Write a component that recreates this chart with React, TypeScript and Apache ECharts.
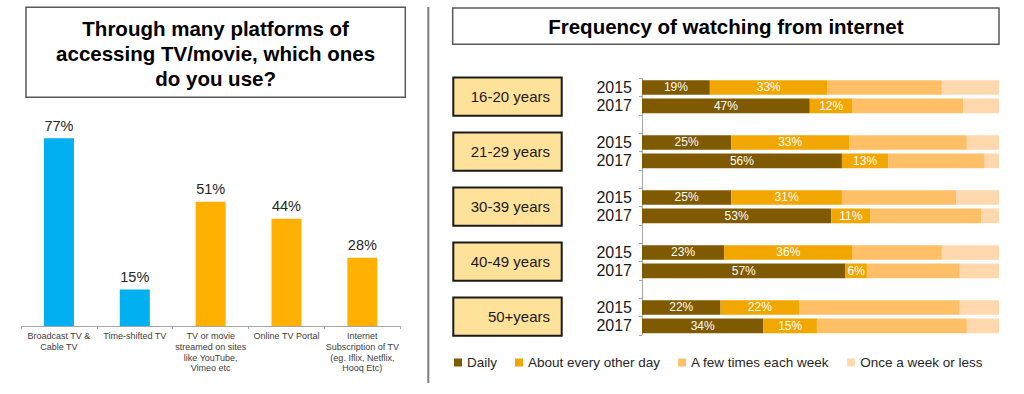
import React, { useEffect, useRef } from 'react';
import * as echarts from 'echarts';

// ---------- Left chart data ----------
const platformCategories = [
  'Broadcast TV &\nCable TV',
  'Time-shifted TV',
  'TV or movie\nstreamed on sites\nlike YouTube,\nVimeo etc',
  'Online TV Portal',
  'Internet\nSubscription of TV\n(eg. Iflix, Netflix,\nHooq Etc)',
];
const platformValues = [77, 15, 51, 44, 28];
const platformColors = ['#00B0F0', '#00B0F0', '#FFB000', '#FFB000', '#FFB000'];

// ---------- Right chart data ----------
const ageGroups = ['16-20 years', '21-29 years', '30-39 years', '40-49 years', '50+years'];
const years = ['2015', '2017'];
// order: group1 2015, group1 2017, group2 2015, ...
const daily = [19, 47, 25, 56, 25, 53, 23, 57, 22, 34];
const everyOtherDay = [33, 12, 33, 13, 31, 11, 36, 6, 22, 15];
const fewTimesWeek = [32, 31, 33, 27, 32, 31, 25, 26, 45, 42];
const onceWeekOrLess = [16, 10, 9, 4, 12, 5, 16, 11, 11, 9];
const frequencyNames = ['Daily', 'About every other day', 'A few times each week', 'Once a week or less'];
const frequencyColors = ['#7F5A00', '#F2A600', '#FFBF66', '#FFD8AE'];

const leftTitle = 'Through many platforms of\naccessing TV/movie, which ones\ndo you use?';
const rightTitle = 'Frequency of watching from internet';

const FONT = '"Liberation Sans", Arial, sans-serif';

export default function App() {
  const ref = useRef<HTMLDivElement>(null);

  useEffect(() => {
    document.body.style.margin = '0';
    document.body.style.overflow = 'hidden';
    if (!ref.current) return;
    const chart = echarts.init(ref.current, undefined, { renderer: 'svg' });

    // Build row categories with blank spacer rows between groups
    const rows: string[] = [];
    const rowIndexOfValue: number[] = [];
    ageGroups.forEach((g, gi) => {
      years.forEach((y) => {
        rowIndexOfValue.push(rows.length);
        rows.push(`${g}|${y}`);
      });
      if (gi < ageGroups.length - 1) rows.push(`${g}|`);
    });
    const expand = (vals: number[]) => {
      const out: (number | string)[] = rows.map(() => '-');
      vals.forEach((v, i) => {
        out[rowIndexOfValue[i]] = v;
      });
      return out;
    };
    const freqData = [daily, everyOtherDay, fewTimesWeek, onceWeekOrLess];

    chart.setOption({
      animation: false,
      textStyle: { fontFamily: FONT },
      grid: [
        { left: 21, right: 623.7, top: 82.2, bottom: 68 },
        { left: 642, right: 25, top: 78.3, bottom: 59 },
      ],
      xAxis: [
        {
          gridIndex: 0,
          type: 'category',
          data: platformCategories,
          axisLine: { lineStyle: { color: '#A6A6A6', width: 1 } },
          axisTick: { show: true, length: 3, interval: 0, lineStyle: { color: '#A6A6A6' } },
          axisLabel: {
            interval: 0,
            fontSize: 9,
            color: '#404040',
            lineHeight: 10.7,
            margin: 5,
            fontFamily: FONT,
          },
        },
        { gridIndex: 1, type: 'value', min: 0, max: 100, show: false },
      ],
      yAxis: [
        { gridIndex: 0, type: 'value', min: 0, max: 100, show: false },
        {
          gridIndex: 1,
          type: 'category',
          inverse: true,
          data: rows,
          axisLine: { lineStyle: { color: '#A6A6A6', width: 1 } },
          axisTick: { show: true, length: 3, interval: 0, lineStyle: { color: '#A6A6A6' } },
          axisLabel: {
            interval: 0,
            fontSize: 16,
            color: '#1a1a1a',
            margin: 10,
            fontFamily: FONT,
            formatter: (v: string) => v.split('|')[1],
          },
        },
      ],
      legend: {
        data: frequencyNames,
        left: 449,
        top: 350.5,
        icon: 'rect',
        itemWidth: 8,
        itemHeight: 8,
        itemGap: 18,
        textStyle: { fontSize: 13.5, color: '#262626', fontFamily: FONT },
      },
      series: [
        {
          type: 'bar',
          xAxisIndex: 0,
          yAxisIndex: 0,
          barWidth: 30,
          data: platformValues.map((v, i) => ({ value: v, itemStyle: { color: platformColors[i] } })),
          label: {
            show: true,
            position: 'top',
            distance: 5,
            formatter: '{c}%',
            fontSize: 14.5,
            color: '#262626',
            fontFamily: FONT,
          },
        },
        ...frequencyNames.map((name, si) => ({
          name,
          type: 'bar',
          stack: 'freq',
          xAxisIndex: 1,
          yAxisIndex: 1,
          barWidth: '80%',
          itemStyle: { color: frequencyColors[si] },
          data: expand(freqData[si]),
          label: {
            show: si < 2,
            position: 'inside',
            formatter: '{c}%',
            fontSize: 12,
            color: '#ffffff',
            fontFamily: FONT,
          },
        })),
      ],
    });

    const yPix = (i: number) => chart.convertToPixel({ yAxisIndex: 1 } as any, i) as unknown as number;
    const groupBoxes: any[] = [];
    ageGroups.forEach((g, gi) => {
      const a = yPix(rowIndexOfValue[gi * 2]);
      const b = yPix(rowIndexOfValue[gi * 2 + 1]);
      const cy = (a + b) / 2;
      groupBoxes.push({
        type: 'rect',
        shape: { x: 453.3, y: cy - 19.2, width: 108.4, height: 38.4 },
        style: { fill: '#FFE29A', stroke: '#1a1a1a', lineWidth: 2 },
      });
      groupBoxes.push({
        type: 'text',
        x: 550,
        y: cy,
        style: {
          text: g,
          align: 'right',
          verticalAlign: 'middle',
          fontSize: 15,
          fill: '#1a1a1a',
          fontFamily: FONT,
        },
      });
    });

    chart.setOption({
      graphic: [
        {
          type: 'rect',
          shape: { x: 26, y: 7.3, width: 379.3, height: 90 },
          style: { fill: 'none', stroke: '#595959', lineWidth: 1.5 },
        },
        {
          type: 'text',
          x: 215.6,
          y: 53,
          style: {
            text: leftTitle,
            align: 'center',
            verticalAlign: 'middle',
            fontSize: 20.5,
            fontWeight: 'bold',
            lineHeight: 25,
            fill: '#000000',
            fontFamily: FONT,
          },
        },
        {
          type: 'line',
          shape: { x1: 428.3, y1: 7, x2: 428.3, y2: 383 },
          style: { stroke: '#7F7F7F', lineWidth: 2 },
        },
        {
          type: 'rect',
          shape: { x: 452.7, y: 8, width: 546.3, height: 36.3 },
          style: { fill: 'none', stroke: '#595959', lineWidth: 1.5 },
        },
        {
          type: 'text',
          x: 725.9,
          y: 26.5,
          style: {
            text: rightTitle,
            align: 'center',
            verticalAlign: 'middle',
            fontSize: 20.5,
            fontWeight: 'bold',
            fill: '#000000',
            fontFamily: FONT,
          },
        },
        ...groupBoxes,
      ],
    });

    return () => {
      chart.dispose();
    };
  }, []);

  return <div ref={ref} style={{ width: 1024, height: 394 }} />;
}
